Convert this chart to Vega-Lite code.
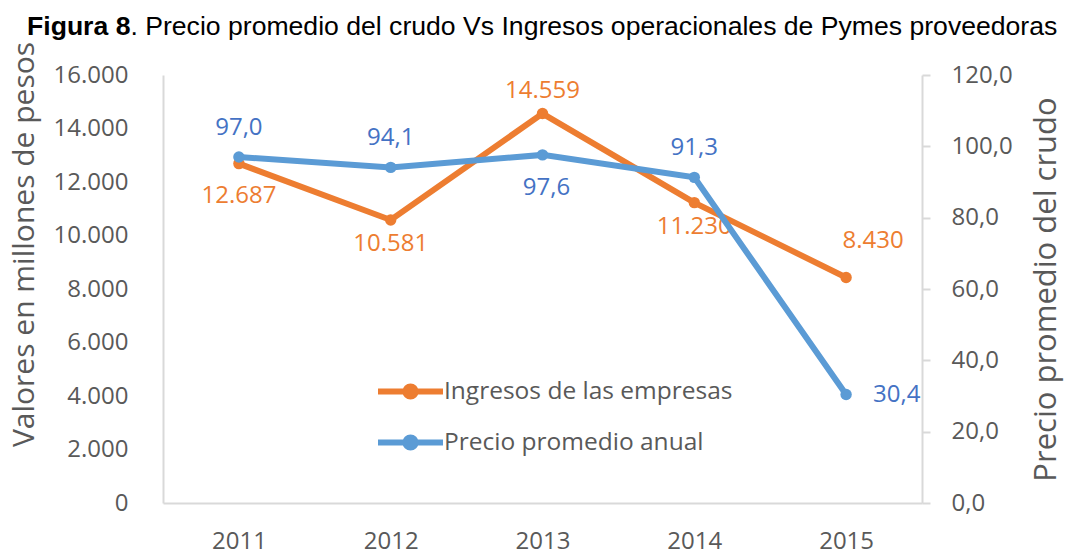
{
  "$schema": "https://vega.github.io/schema/vega-lite/v6.json",
  "width": 759,
  "height": 428,
  "autosize": {"type": "none"},
  "padding": {"left": 163, "top": 75, "right": 143, "bottom": 53},
  "background": "white",
  "title": {
    "text": "Figura 8",
    "subtitle": "\u200b\u00a0\u00a0\u00a0\u00a0\u00a0\u00a0\u00a0\u00a0\u00a0\u00a0\u00a0\u00a0\u00a0\u00a0. Precio promedio del crudo Vs Ingresos operacionales de Pymes proveedoras",
    "anchor": "start",
    "frame": "group",
    "dx": -136,
    "offset": 1,
    "font": "Liberation Sans",
    "fontSize": 26.6,
    "fontWeight": "bold",
    "color": "#000000",
    "subtitleFont": "Liberation Sans",
    "subtitleFontSize": 26.6,
    "subtitleFontWeight": "normal",
    "subtitleColor": "#000000",
    "subtitlePadding": -26.6
  },
  "config": {
    "view": {"stroke": null},
    "font": "Open Sans",
    "axis": {"grid": false},
    "locale": {
      "number": {"decimal": ",", "thousands": ".", "grouping": [3], "currency": ["$", ""]}
    }
  },
  "data": {
    "values": [
      {"year": "2011", "ingresos": 12687, "precio": 97.0},
      {"year": "2012", "ingresos": 10581, "precio": 94.1},
      {"year": "2013", "ingresos": 14559, "precio": 97.6},
      {"year": "2014", "ingresos": 11230, "precio": 91.3},
      {"year": "2015", "ingresos": 8430, "precio": 30.4}
    ]
  },
  "encoding": {
    "x": {
      "field": "year",
      "type": "ordinal",
      "scale": {"type": "point", "padding": 0.5},
      "axis": {
        "title": null,
        "labelAngle": 0,
        "labelFont": "Open Sans",
        "labelFontSize": 24,
        "labelColor": "#595959",
        "ticks": false,
        "domainColor": "#D9D9D9",
        "domainWidth": 2,
        "labelPadding": 26
      }
    }
  },
  "layer": [
    {
      "encoding": {
        "y": {
          "field": "ingresos",
          "type": "quantitative",
          "scale": {"domain": [0, 16000], "nice": false},
          "axis": {
            "orient": "left",
            "title": "Valores en millones de pesos",
            "values": [0, 2000, 4000, 6000, 8000, 10000, 12000, 14000, 16000],
            "format": ",d",
            "labelFont": "Open Sans",
            "labelFontSize": 24,
            "labelColor": "#595959",
            "labelPadding": 35,
            "ticks": false,
            "domainColor": "#D9D9D9",
            "domainWidth": 2,
            "titleFont": "Open Sans",
            "titleFontSize": 30,
            "titleFontWeight": "normal",
            "titleColor": "#595959",
            "titlePadding": 14,
            "titleY": 169
          }
        }
      },
      "layer": [
        {
          "mark": {"type": "line", "strokeWidth": 6, "point": {"filled": true, "size": 130}},
          "encoding": {
            "color": {
              "datum": "Ingresos de las empresas",
              "type": "nominal",
              "scale": {
                "domain": ["Ingresos de las empresas", "Precio promedio anual"],
                "range": ["#ED7D31", "#5B9BD5"]
              },
              "legend": {
                "title": null,
                "orient": "none",
                "legendX": 228,
                "legendY": 297,
                "padding": 0,
                "symbolType": "M-2,0L2,0M0.31,0A0.31,0.31,0,1,1,-0.31,0A0.31,0.31,0,1,1,0.31,0Z",
                "symbolSize": 1056,
                "symbolStrokeWidth": 6,
                "labelOffset": 14,
                "rowPadding": 14,
                "labelFont": "Open Sans",
                "labelFontSize": 24.5,
                "labelColor": "#595959",
                "labelLimit": 500,
                "encode": {
                  "symbols": {
                    "update": {
                      "fill": {"scale": "color", "field": "value"},
                      "stroke": {"scale": "color", "field": "value"},
                      "fillOpacity": {"value": 1}
                    }
                  }
                }
              }
            }
          }
        },
        {
          "transform": [{"filter": {"field": "year", "oneOf": ["2013"]}}],
          "mark": {"type": "text", "dy": -23, "fontSize": 24, "font": "Open Sans", "color": "#ED7D31"},
          "encoding": {"text": {"field": "ingresos", "type": "quantitative", "format": ",d"}}
        },
        {
          "transform": [{"filter": {"field": "year", "oneOf": ["2015"]}}],
          "mark": {"type": "text", "dy": -36, "dx": 27, "fontSize": 24, "font": "Open Sans", "color": "#ED7D31"},
          "encoding": {"text": {"field": "ingresos", "type": "quantitative", "format": ",d"}}
        },
        {
          "transform": [{"filter": {"field": "year", "oneOf": ["2011"]}}],
          "mark": {"type": "text", "dy": 32, "fontSize": 24, "font": "Open Sans", "color": "#ED7D31"},
          "encoding": {"text": {"field": "ingresos", "type": "quantitative", "format": ",d"}}
        },
        {
          "transform": [{"filter": {"field": "year", "oneOf": ["2012", "2014"]}}],
          "mark": {"type": "text", "dy": 24, "fontSize": 24, "font": "Open Sans", "color": "#ED7D31"},
          "encoding": {"text": {"field": "ingresos", "type": "quantitative", "format": ",d"}}
        }
      ]
    },
    {
      "encoding": {
        "y": {
          "field": "precio",
          "type": "quantitative",
          "scale": {"domain": [0, 120], "nice": false},
          "axis": {
            "orient": "right",
            "title": "Precio promedio del crudo",
            "values": [0, 20, 40, 60, 80, 100, 120],
            "format": ".1f",
            "labelFont": "Open Sans",
            "labelFontSize": 24,
            "labelColor": "#595959",
            "labelPadding": 21,
            "ticks": true,
            "tickSize": 8,
            "tickColor": "#D9D9D9",
            "tickWidth": 2,
            "domainColor": "#D9D9D9",
            "domainWidth": 2,
            "titleFont": "Open Sans",
            "titleFontSize": 31,
            "titleFontWeight": "normal",
            "titleColor": "#595959",
            "titleAngle": 270,
            "titlePadding": 50
          }
        }
      },
      "layer": [
        {
          "mark": {"type": "line", "strokeWidth": 6, "point": {"filled": true, "size": 130}},
          "encoding": {
            "color": {
              "datum": "Precio promedio anual",
              "type": "nominal"
            }
          }
        },
        {
          "transform": [{"filter": {"field": "year", "oneOf": ["2011", "2012", "2014"]}}],
          "mark": {"type": "text", "dy": -29, "fontSize": 24, "font": "Open Sans", "color": "#4472C4"},
          "encoding": {"text": {"field": "precio", "type": "quantitative", "format": ".1f"}}
        },
        {
          "transform": [{"filter": {"field": "year", "oneOf": ["2013"]}}],
          "mark": {"type": "text", "dy": 33, "dx": 4, "fontSize": 24, "font": "Open Sans", "color": "#4472C4"},
          "encoding": {"text": {"field": "precio", "type": "quantitative", "format": ".1f"}}
        },
        {
          "transform": [{"filter": {"field": "year", "oneOf": ["2015"]}}],
          "mark": {"type": "text", "dx": 27, "align": "left", "fontSize": 24, "font": "Open Sans", "color": "#4472C4"},
          "encoding": {"text": {"field": "precio", "type": "quantitative", "format": ".1f"}}
        }
      ]
    }
  ],
  "resolve": {"scale": {"y": "independent"}}
}
